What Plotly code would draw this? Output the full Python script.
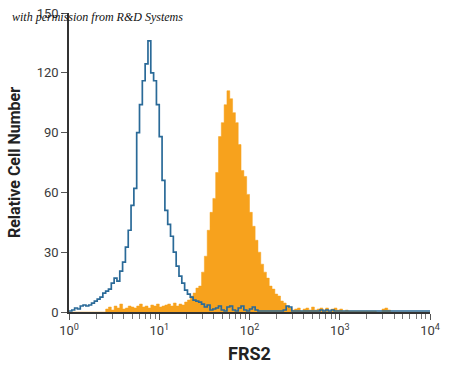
import numpy as np
import plotly.graph_objects as go

# 128 log-spaced channels over 4 decades (10^0 .. 10^4)
n_channels = 128
decades = 4

isotype_counts = [
    0.5, 1, 2, 1.5, 3, 3.5, 3, 3.5, 4.5, 5.5,
    6.5, 7.5, 9.5, 10.5, 11.5, 14.5, 17, 15.5, 20.5, 25,
    32.5, 41, 53.5, 62, 90, 104, 116, 124.5, 136, 120,
    116, 104, 88, 66, 51, 44, 38, 30, 23, 18,
    14.5, 11, 9, 7.5, 6, 5.5, 5, 4, 2.5, 3.5,
    1, 1.5, 2, 3, 1, 0.5, 2.5, 3, 1, 0.5,
    2, 3, 1, 0.5, 1.5, 2.5, 1, 0.5, 0.5, 0.5,
    0.5, 0.5, 0.5, 0.5, 0.5, 0.5, 1, 3, 2.5, 0.5,
    0.5, 0.5, 0.5, 0.5, 0.5, 0.5, 0.5, 0.5, 0.5, 1,
    0.5, 1, 0.5, 1, 0.5, 0.5, 0.5, 0.5, 0.5, 0.5,
    0.5, 0.5, 0.5, 0.5, 0.5, 0.5, 0.5, 0.5, 0.5, 0.5,
    0.5, 0.5, 0.5, 0.5, 0.5, 0.5, 0.5, 0.5, 0.5, 0.5,
    0.5, 0.5, 0.5, 0.5, 0.5, 0.5, 0.5, 0.5,
]

frs2_counts = [
    0, 0, 0, 0, 0, 0, 0, 0, 0, 0,
    0, 0, 0, 1.5, 2.5, 1, 3, 2, 4, 1.5,
    2, 3, 2.5, 2, 3, 4, 2.5, 3, 2, 3.5,
    3, 4, 2.5, 3, 3.5, 4, 3, 4.5, 3, 4,
    3.5, 5, 6, 8, 9.5, 12, 13, 20, 28, 41,
    50, 57, 70, 88, 95, 104, 111, 107, 100, 95,
    84, 71, 68, 59, 50, 43, 36, 30, 24, 20,
    17, 13, 11.5, 9, 8, 5.5, 4.5, 3, 2, 1,
    1.5, 2, 0.5, 1.5, 2, 1, 2.5, 1, 1.5, 2,
    1, 2, 0.5, 1.5, 2, 1, 1.5, 0.5, 1, 0.5,
    0.5, 0.5, 0.5, 0.5, 0.5, 0.5, 0.5, 0.5, 0.5, 0,
    0, 1.5, 2, 1, 0, 0, 0, 0, 0, 0,
    0, 0, 0, 0, 0, 0, 0, 0,
]

x_tickvals = [1, 10, 100, 1000, 10000]
x_ticktext = ["10<sup>0</sup>", "10<sup>1</sup>", "10<sup>2</sup>", "10<sup>3</sup>", "10<sup>4</sup>"]
y_tickvals = [0, 30, 60, 90, 120, 150]

edges = 10 ** (np.arange(n_channels + 1) * decades / n_channels)


def step_xy(counts):
    xs = list(edges[:-1]) + [edges[-1]]
    ys = list(counts) + [counts[-1]]
    return xs, ys


fx, fy = step_xy(frs2_counts)
bx, by = step_xy(isotype_counts)

fig = go.Figure()
fig.add_trace(go.Scatter(
    x=fx, y=fy, mode="lines", line=dict(shape="hv", width=0.5, color="#f7a21d"),
    fill="tozeroy", fillcolor="#f7a21d", hoverinfo="skip", showlegend=False,
))
fig.add_trace(go.Scatter(
    x=bx, y=by, mode="lines", line=dict(shape="hv", width=1.7, color="#2a6a98"),
    hoverinfo="skip", showlegend=False,
))

FONT = "Roboto, Liberation Sans Narrow, Arial Narrow, sans-serif"
tick_font = dict(family=FONT, size=13, color="#3a3a3a")

fig.update_layout(
    width=450, height=375,
    margin=dict(l=69, r=20, t=13, b=63, autoexpand=False),
    paper_bgcolor="white", plot_bgcolor="white",
    xaxis=dict(
        type="log", range=[0, 4], automargin=False,
        tickvals=x_tickvals, ticktext=x_ticktext,
        ticks="outside", ticklen=6, tickcolor="#555555", tickwidth=1,
        showline=True, linecolor="#333333", linewidth=1.5,
        showgrid=False, zeroline=False,
        tickfont=tick_font,
        minor=dict(ticks="outside", ticklen=5, tickcolor="#777777", dtick="D1", showgrid=False),
        title=dict(text="<b>FRS2</b>", standoff=10,
                   font=dict(family=FONT, size=18, color="#222222")),
    ),
    yaxis=dict(
        range=[0, 150], automargin=False,
        tickvals=y_tickvals,
        ticks="outside", ticklen=6, tickcolor="#555555", tickwidth=1,
        showline=True, linecolor="#333333", linewidth=1.5,
        showgrid=False, zeroline=False,
        tickfont=tick_font,
        title=dict(text="<b>Relative Cell Number</b>", standoff=12,
                   font=dict(family=FONT, size=16, color="#222222")),
    ),
)

fig.add_annotation(
    text="<i>with permission from R&amp;D Systems</i>",
    xref="paper", yref="paper", x=-0.164, y=1.0, xanchor="left", yanchor="middle",
    yshift=-4, showarrow=False,
    font=dict(family="Liberation Serif, DejaVu Serif, serif", size=12, color="#111111"),
)

fig.write_html("out.html", config={"displayModeBar": False},
               post_script="document.body.style.margin='0';")
